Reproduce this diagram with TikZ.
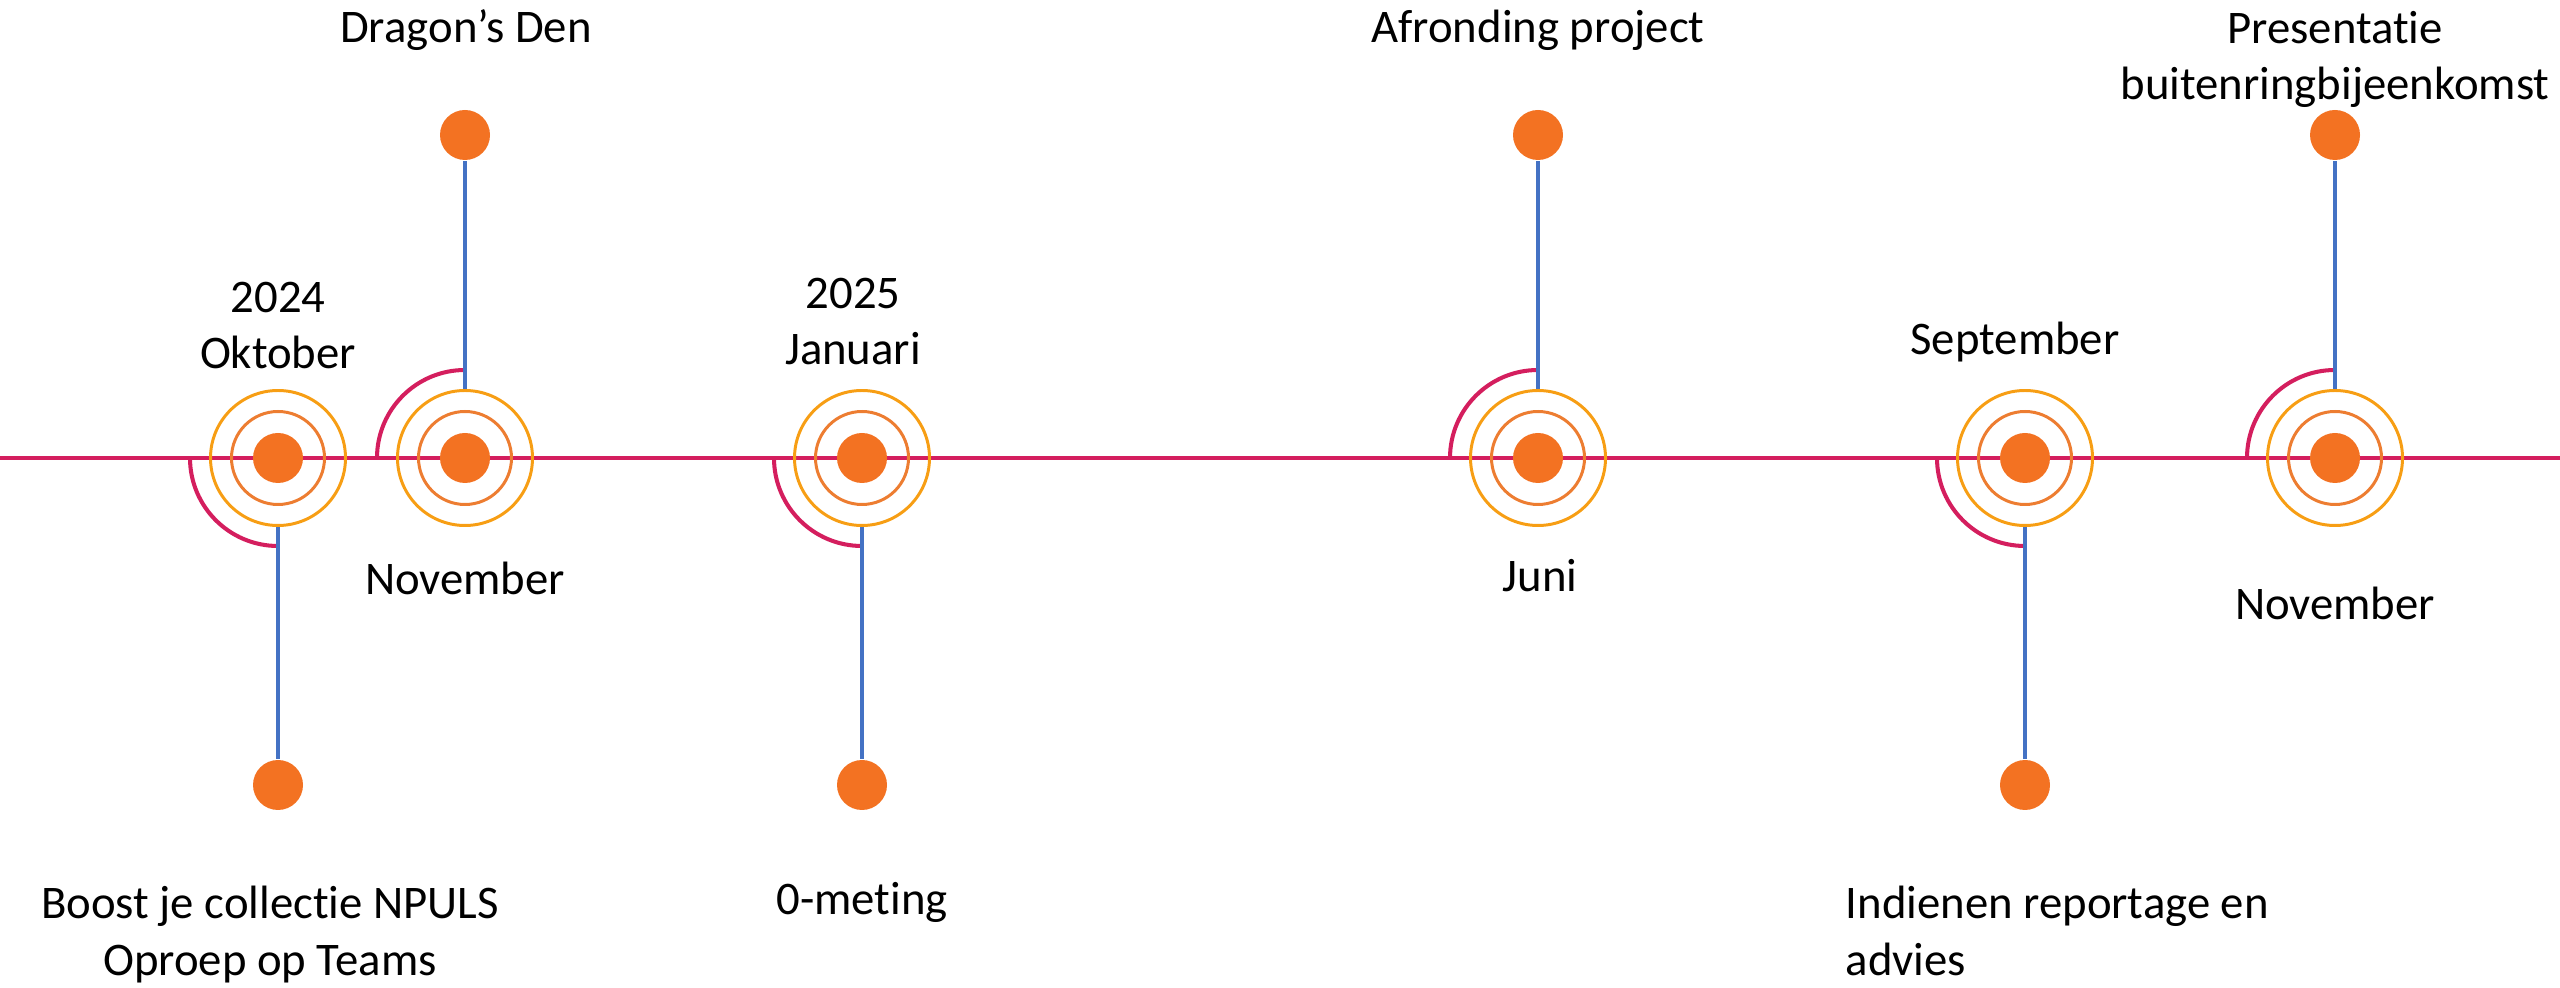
\documentclass[tikz,border=0pt]{standalone}
\usepackage{fontspec}
\setmainfont{Carlito}[Ligatures=NoCommon]
\usetikzlibrary{calc}
\definecolor{lijnrood}{RGB}{212,30,94}
\definecolor{ringgeel}{RGB}{247,158,20}
\definecolor{ringoranje}{RGB}{237,125,49}
\definecolor{stiporanje}{RGB}{243,114,34}
\definecolor{steelblauw}{RGB}{68,114,196}
\def\kwartboog(#1:#2){\draw[boog] ($(#1)+(-0.88,0)$) arc (180:#2:0.88);}
\tikzset{
	tijdlijn/.style={draw=lijnrood, line width=1pt},
	boog/.style={draw=lijnrood, line width=1.15pt},
	buitenring/.style={circle, draw=ringgeel, line width=0.85pt, minimum size=1.35cm, inner sep=0pt},
	binnenring/.style={circle, draw=ringoranje, line width=0.85pt, minimum size=0.93cm, inner sep=0pt},
	stip/.style={circle, fill=stiporanje, minimum size=0.5cm, inner sep=0pt},
	steel/.style={draw=steelblauw, line width=1.1pt},
	tekst/.style={font=\fontsize{13.3}{16.2}\selectfont, anchor=base, align=center, inner sep=0pt}
}

\begin{document}
\begin{tikzpicture}
				\useasboundingbox (0,0) rectangle (25.6,9.87);
				
				\coordinate (links) at (0,5.29);
				\coordinate (rechts) at (25.6,5.29);
				\draw[tijdlijn] (links) -- (rechts);
				
				\node[stip] (s1) at (2.78,5.29) {};
				\node[binnenring] (i1) at (s1) {};
				\node[buitenring] (r1) at (s1) {};
				\node[stip] (e1) at (2.78,2.02) {};
				\kwartboog(s1:270)
				\draw[steel] (r1) -- (e1);
				
				\node[stip] (s2) at (4.65,5.29) {};
				\node[binnenring] (i2) at (s2) {};
				\node[buitenring] (r2) at (s2) {};
				\node[stip] (e2) at (4.65,8.52) {};
				\kwartboog(s2:90)
				\draw[steel] (r2) -- (e2);
				
				\node[stip] (s3) at (8.62,5.29) {};
				\node[binnenring] (i3) at (s3) {};
				\node[buitenring] (r3) at (s3) {};
				\node[stip] (e3) at (8.62,2.02) {};
				\kwartboog(s3:270)
				\draw[steel] (r3) -- (e3);
				
				\node[stip] (s4) at (15.38,5.29) {};
				\node[binnenring] (i4) at (s4) {};
				\node[buitenring] (r4) at (s4) {};
				\node[stip] (e4) at (15.38,8.52) {};
				\kwartboog(s4:90)
				\draw[steel] (r4) -- (e4);
				
				\node[stip] (s5) at (20.25,5.29) {};
				\node[binnenring] (i5) at (s5) {};
				\node[buitenring] (r5) at (s5) {};
				\node[stip] (e5) at (20.25,2.02) {};
				\kwartboog(s5:270)
				\draw[steel] (r5) -- (e5);
				
				\node[stip] (s6) at (23.35,5.29) {};
				\node[binnenring] (i6) at (s6) {};
				\node[buitenring] (r6) at (s6) {};
				\node[stip] (e6) at (23.35,8.52) {};
				\kwartboog(s6:90)
				\draw[steel] (r6) -- (e6);
				
				\node[tekst] (okt) at (2.78,6.18) {2024\\Oktober};
				\node[tekst] (boost) at (2.70,0.12) {Boost je collectie NPULS\\Oproep op Teams};
				\node[tekst] (den) at (4.66,9.44) {Dragon’s Den};
				\node[tekst] (nov) at (4.65,3.92) {November};
				\node[tekst] (jan) at (8.53,6.22) {2025\\Januari};
				\node[tekst] (meting) at (8.62,0.72) {0-meting};
				\node[tekst] (afr) at (15.38,9.44) {Afronding project};
				\node[tekst] (juni) at (15.40,3.95) {Juni};
				\node[tekst] (sep) at (20.15,6.32) {September};
				\node[tekst, anchor=base west, align=left] (indien) at (18.45,0.12) {Indienen reportage en\\advies};
				\node[tekst] (pres) at (23.35,8.87) {Presentatie\\buitenringbijeenkomst};
				\node[tekst] (nov2) at (23.35,3.67) {November};
\end{tikzpicture}
\end{document}
